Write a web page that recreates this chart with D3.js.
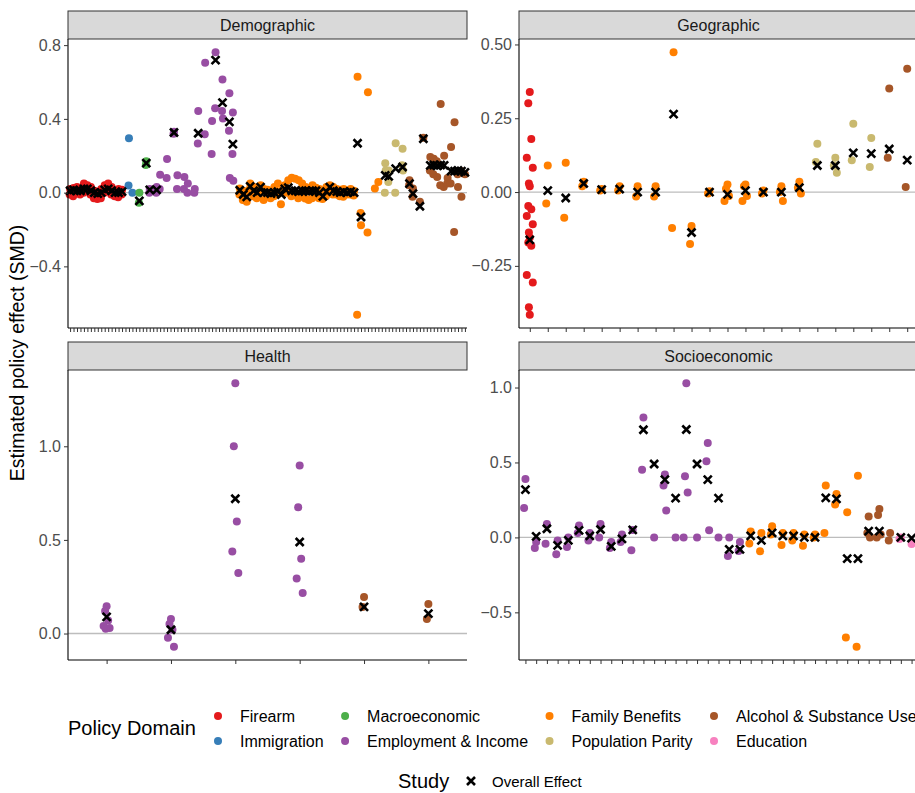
<!DOCTYPE html>
<html>
<head>
<meta charset="utf-8">
<script src="https://cdn.jsdelivr.net/npm/d3@7"></script>
<style>
  body { margin: 0; background: #fff; }
  svg text { font-family: "Liberation Sans", Arial, sans-serif; }
</style>
</head>
<body>
<svg id="chart" width="915" height="793"></svg>
<script>
// policy domains
const domainCodes = ["F", "I", "M", "E", "B", "P", "A", "D"];
const domainNames = ["Firearm", "Immigration", "Macroeconomic", "Employment & Income",
                     "Family Benefits", "Population Parity", "Alcohol & Substance Use", "Education"];
const domainColors = ["#e41a1c", "#377eb8", "#4daf4a", "#984ea3",
                      "#ff7f00", "#c9b96f", "#a65628", "#f781bf"];

// [study index, domain, overall effect (null = none), estimates]
const demographic = [
  [0,"F",0.01,[0.02,-0.01]], [1,"F",0.015,[0.025,-0.02]], [2,"F",0.01,[0.03,0.0]],
  [3,"F",0.01,[0.02,-0.01]], [4,"F",0.02,[0.05,0.0]], [5,"F",0.02,[0.04,0.01]],
  [6,"F",0.01,[0.03,-0.01]], [7,"F",0.0,[0.01,-0.03]], [8,"F",-0.005,[0.0,-0.035]],
  [9,"F",0.0,[0.02,-0.03]], [10,"F",0.015,[0.04,0.0]], [11,"F",0.02,[0.05,0.01]],
  [12,"F",0.01,[0.03,-0.01]], [13,"F",0.0,[0.01,-0.02]], [14,"F",0.0,[0.02,-0.025]],
  [15,"F",0.005,[0.015,-0.01]],
  [17,"I",null,[0.295,0.038]], [18,"I",null,[0.0]],
  [20,"M",-0.045,[0.0,-0.055]], [22,"M",0.16,[0.17,0.15]],
  [23,"E",0.015,[0.02,0.0]], [25,"E",0.015,[0.03,0.0]], [26,"E",null,[0.097,0.02]],
  [28,"E",null,[0.182,0.079]], [30,"E",0.326,[0.33,0.32]], [31,"E",null,[0.094,0.02]],
  [33,"E",null,[0.085,0.02]], [34,"E",null,[0.05,0.0]], [36,"E",null,[0.02,0.0]],
  [37,"E",0.322,[0.443,0.267]], [39,"E",null,[0.705,0.317]], [41,"E",null,[0.389,0.209]],
  [42,"E",0.719,[0.762,0.458]], [44,"E",0.488,[0.614,0.443,0.402]],
  [46,"E",0.384,[0.539,0.335,0.079]], [47,"E",0.263,[0.434,0.209,0.065]],
  [49,"B",0.013,[0.022,-0.01]], [50,"B",-0.01,[0.01,-0.04]], [51,"B",-0.023,[-0.05,0.0]],
  [52,"B",0.034,[0.05,0.02]], [53,"B",0.01,[0.03,-0.02]], [54,"B",0.0,[0.02,-0.03]],
  [55,"B",0.03,[0.04,0.01]], [56,"B",0.0,[0.02,-0.04]], [57,"B",0.0,[0.015,-0.02]],
  [58,"B",-0.005,[0.01,-0.03]], [59,"B",0.0,[0.03,-0.02]], [60,"B",0.005,[0.049,-0.01]],
  [61,"B",-0.01,[0.01,-0.063]], [62,"B",0.02,[0.04,0.0]], [63,"B",0.027,[0.067,0.0]],
  [64,"B",0.01,[0.081,-0.02]], [65,"B",0.01,[0.075,-0.01]], [66,"B",0.005,[0.067,-0.03]],
  [67,"B",0.01,[0.05,-0.02]], [68,"B",0.01,[0.03,-0.032]], [69,"B",0.005,[0.02,-0.04]],
  [70,"B",0.01,[0.04,-0.03]], [71,"B",0.01,[0.027,-0.01]], [72,"B",0.0,[0.02,-0.03]],
  [73,"B",-0.02,[0.0,-0.035]], [74,"B",0.005,[0.03,-0.02]], [75,"B",0.03,[0.04,0.01]],
  [76,"B",0.01,[0.03,-0.01]], [77,"B",0.005,[0.02,-0.01]], [78,"B",0.0,[0.015,-0.02]],
  [79,"B",0.005,[0.02,-0.023]], [80,"B",0.0,[0.01,-0.01]], [81,"B",0.005,[0.02,-0.01]],
  [82,"B",0.0,[0.01,-0.015]],
  [83,"B",0.268,[0.629,-0.663]], [84,"B",-0.132,[-0.177,-0.11]], [86,"B",null,[0.544,-0.216]],
  [88,"B",null,[0.022]], [89,"B",null,[0.058]],
  [91,"P",0.094,[0.16,0.0,0.12]], [92,"P",0.088,[0.12,0.058]], [94,"P",0.13,[0.268,0.0]],
  [96,"P",0.139,[0.238,0.148,0.12]],
  [98,"A",0.049,[0.067,0.04]], [99,"A",-0.005,[0.022,-0.023]], [101,"A",-0.074,[-0.05]],
  [102,"A",0.292,[0.297]], [104,"A",0.148,[0.193,0.12]], [105,"A",0.15,[0.184,0.1]],
  [106,"A",0.145,[0.085,0.17]], [107,"A",0.15,[0.481,0.04]], [108,"A",0.148,[0.2,0.03]],
  [109,"A",null,[0.08,0.05]], [110,"A",0.117,[0.247,0.05]], [111,"A",0.117,[0.382,-0.213]],
  [112,"A",0.12,[0.03,0.1]], [113,"A",0.117,[-0.023,0.117]], [114,"A",0.11,[0.1]]
];

const geographic = [
  [0,"F",-0.162,[0.339,0.301,0.18,0.116,0.082,0.029,0.02,-0.047,-0.058,-0.081,-0.109,
                 -0.137,-0.154,-0.171,-0.182,-0.281,-0.306,-0.39,-0.416]],
  [1,"B",0.005,[0.09,-0.039]], [2,"B",-0.02,[0.099,-0.087]], [3,"B",0.029,[0.035,0.02]],
  [4,"B",0.008,[0.01,0.005]], [5,"B",0.01,[0.02,0.005]], [6,"B",0.0,[0.02,-0.015]],
  [7,"B",0.0,[0.02,-0.015]], [8,"B",0.264,[0.474,-0.122]], [9,"B",-0.137,[-0.115,-0.176]],
  [10,"B",0.0,[0.003,-0.005]], [11,"B",-0.008,[0.026,0.011,-0.013,-0.03]],
  [12,"B",0.005,[0.026,0.02,-0.013,-0.03]], [13,"B",0.0,[0.005,-0.005]],
  [14,"B",0.0,[0.02,0.0,-0.03]], [15,"B",0.015,[0.035,0.015,-0.005]],
  [16,"P",0.09,[0.164,0.102]], [17,"P",0.09,[0.116,0.09,0.065]],
  [18,"P",0.133,[0.231,0.108]], [19,"P",0.13,[0.183,0.085]],
  [20,"A",0.146,[0.351,0.116]], [21,"A",0.108,[0.418,0.017]]
];

const health = [
  [0,"E",0.089,[0.145,0.12,0.07,0.04,0.03,0.025]],
  [1,"E",0.02,[0.078,0.051,0.02,-0.023,-0.071]],
  [2,"E",0.72,[1.337,1.0,0.598,0.438,0.323]],
  [3,"E",0.489,[0.897,0.674,0.4,0.294,0.216]],
  [4,"A",0.142,[0.195,0.142]],
  [5,"A",0.106,[0.158,0.078]]
];

const socioeconomic = [
  [0,"E",0.319,[0.39,0.197]], [1,"E",0.007,[-0.03,-0.071]], [2,"E",0.058,[0.09,-0.042]],
  [3,"E",-0.053,[-0.02,-0.113]], [4,"E",-0.02,[0.0,-0.064]], [5,"E",0.047,[0.08,0.03]],
  [6,"E",0.01,[0.03,-0.02]], [7,"E",0.053,[0.09,0.0]], [8,"E",-0.06,[-0.03,-0.07]],
  [9,"E",-0.01,[0.02,-0.03]], [10,"E",0.05,[0.05,-0.085]], [11,"E",0.718,[0.8,0.452]],
  [12,"E",0.49,[0.0]], [13,"E",0.386,[0.42,0.346,0.18]], [14,"E",0.262,[0.0]],
  [15,"E",0.72,[1.029,0.408,0.3,0.0]], [16,"E",0.49,[0.0]], [17,"E",0.386,[0.63,0.508,0.047]],
  [18,"E",0.262,[0.0]], [19,"E",-0.08,[0.0,-0.124]], [20,"E",-0.08,[-0.03,-0.09]],
  [21,"B",0.01,[0.04,-0.04]], [22,"B",-0.02,[0.03,-0.093]], [23,"B",0.03,[0.075,0.02]],
  [24,"B",0.01,[0.03,-0.05]], [25,"B",0.01,[0.03,-0.02]], [26,"B",0.0,[0.02,-0.055]],
  [27,"B",0.0,[0.02,0.0]], [28,"B",0.264,[0.346,0.03]], [29,"B",0.257,[0.29,0.22]],
  [30,"B",-0.142,[0.168,-0.667]], [31,"B",-0.142,[0.412,-0.73]],
  [32,"A",0.042,[0.14,0.03,0.0]], [33,"A",0.042,[0.19,0.15,0.02,0.0]],
  [34,"A",null,[0.03,-0.02]],
  [35,"D",0.0,[0.0,-0.01]], [36,"D",-0.005,[-0.044]]
];

const panelTitles = ["Demographic", "Geographic", "Health", "Socioeconomic"];
const panelData = [demographic, geographic, health, socioeconomic];
const studyCounts = [115, 22, 6, 37];
const yTicks = [[-0.4, 0, 0.4, 0.8], [-0.25, 0, 0.25, 0.5], [0, 0.5, 1.0], [-0.5, 0, 0.5, 1.0]];
const yFormats = [".1f", ".2f", ".1f", ".1f"];

const svg = d3.select("#chart");
const colorOf = d3.scaleOrdinal().domain(domainCodes).range(domainColors);

const cols = [{x0: 68, x1: 467}, {x0: 519, x1: 918}];
const rows = [{strip: 11, y1: 328}, {strip: 342, y1: 660}];
const stripH = 28;
const dotR = 4;

function xCross(g, x, y, r) {
  g.append("path")
    .attr("d", `M${x - r},${y - r}L${x + r},${y + r}M${x - r},${y + r}L${x + r},${y - r}`)
    .attr("stroke", "#000").attr("stroke-width", 2.6).attr("fill", "none");
}

panelData.forEach((rowsData, p) => {
  const c = cols[p % 2], r = rows[Math.floor(p / 2)];
  const top = r.strip + stripH;
  const g = svg.append("g");

  // y domain: data extent with 5% expansion
  const vals = rowsData.flatMap(d => d[3].concat(d[2] == null ? [] : [d[2]]));
  const ext = d3.extent(vals);
  const pad = (ext[1] - ext[0]) * 0.05;
  const y = d3.scaleLinear().domain([ext[0] - pad, ext[1] + pad]).range([r.y1, top]);
  const x = d3.scalePoint().domain(d3.range(studyCounts[p])).range([c.x0, c.x1]).padding(0.6);

  // strip
  g.append("rect").attr("x", c.x0).attr("y", r.strip).attr("width", c.x1 - c.x0).attr("height", stripH)
    .attr("fill", "#d9d9d9").attr("stroke", "#333").attr("stroke-width", 1);
  g.append("text").attr("x", (c.x0 + c.x1) / 2).attr("y", r.strip + stripH / 2 + 5.5)
    .attr("text-anchor", "middle").attr("font-size", 16).attr("fill", "#1a1a1a")
    .text(panelTitles[p]);

  // zero reference
  g.append("line").attr("x1", c.x0).attr("x2", c.x1).attr("y1", y(0)).attr("y2", y(0))
    .attr("stroke", "#bdbdbd").attr("stroke-width", 1.3);

  // estimates
  const jit = [0, -0.5, 0.5, -1, 1, -0.3];
  const w = Math.min(x.step() * 0.25, 3);
  rowsData.forEach(d => {
    d[3].forEach((v, k) => {
      g.append("circle").attr("cx", x(d[0]) + jit[k % jit.length] * w).attr("cy", y(v))
        .attr("r", dotR).attr("fill", colorOf(d[1]));
    });
  });
  rowsData.forEach(d => {
    if (d[2] != null) xCross(g, x(d[0]), y(d[2]), 4);
  });

  // axes
  const ya = g.append("g").attr("transform", `translate(${c.x0},0)`)
    .call(d3.axisLeft(y).tickValues(yTicks[p]).tickFormat(d3.format(yFormats[p])).tickSize(4).tickPadding(3));
  ya.select(".domain").attr("d", `M0,${top}V${r.y1}`).attr("stroke", "#000").attr("stroke-width", 1.1);
  ya.selectAll(".tick line").attr("stroke", "#333");
  ya.selectAll(".tick text").attr("font-size", 16).attr("fill", "#4d4d4d")
    .attr("font-family", "Liberation Sans, Arial, sans-serif");

  const xa = g.append("g").attr("transform", `translate(0,${r.y1})`)
    .call(d3.axisBottom(x).tickSize(4).tickFormat(""));
  xa.select(".domain").attr("d", `M${c.x0},0H${c.x1}`).attr("stroke", "#000").attr("stroke-width", 1.1);
  xa.selectAll(".tick line").attr("stroke", "#333");
});

// y axis title
svg.append("text").attr("transform", "translate(24,353) rotate(-90)")
  .attr("text-anchor", "middle").attr("font-size", 19.5).attr("fill", "#000")
  .text("Estimated policy effect (SMD)");

// domain legend
svg.append("text").attr("x", 68).attr("y", 735).attr("font-size", 20).text("Policy Domain");
const legendRows = [716, 741];
let lx = 218;
for (let col = 0; col < 4; col++) {
  let maxW = 0;
  for (let rw = 0; rw < 2; rw++) {
    const i = col * 2 + rw;
    svg.append("circle").attr("cx", lx).attr("cy", legendRows[rw]).attr("r", dotR)
      .attr("fill", domainColors[i]);
    const t = svg.append("text").attr("x", lx + 22).attr("y", legendRows[rw] + 5.5)
      .attr("font-size", 16).text(domainNames[i]);
    maxW = Math.max(maxW, t.node().getComputedTextLength());
  }
  lx = lx + 22 + maxW + 21.5;
}

// study legend
svg.append("text").attr("x", 398).attr("y", 788).attr("font-size", 20).text("Study");
xCross(svg, 471, 781, 4);
svg.append("text").attr("x", 492).attr("y", 786.5).attr("font-size", 15).text("Overall Effect");
</script>
</body>
</html>
